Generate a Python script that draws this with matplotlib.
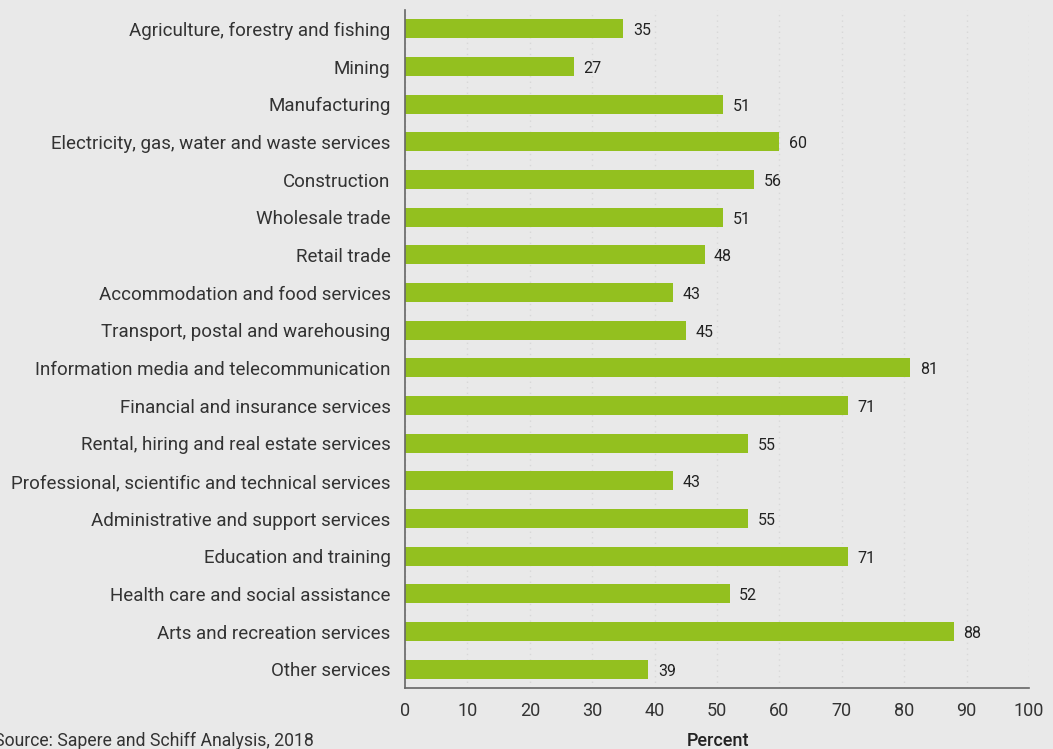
import matplotlib.pyplot as plt

plt.rcParams['font.family'] = ['Roboto', 'DejaVu Sans']

industries = [
    "Agriculture, forestry and fishing",
    "Mining",
    "Manufacturing",
    "Electricity, gas, water and waste services",
    "Construction",
    "Wholesale trade",
    "Retail trade",
    "Accommodation and food services",
    "Transport, postal and warehousing",
    "Information media and telecommunication",
    "Financial and insurance services",
    "Rental, hiring and real estate services",
    "Professional, scientific and technical services",
    "Administrative and support services",
    "Education and training",
    "Health care and social assistance",
    "Arts and recreation services",
    "Other services",
]
percent = [35, 27, 51, 60, 56, 51, 48, 43, 45, 81, 71, 55, 43, 55, 71, 52, 88, 39]
xticks = list(range(0, 101, 10))

bg = '#e9e9e9'
green = '#93c01f'
txt = '#333333'

fig = plt.figure(figsize=(10.53, 7.49), dpi=100, facecolor=bg)
ax = fig.add_axes([0.3847, 0.0814, 0.5925, 0.9052])
ax.set_facecolor(bg)

y = list(range(len(industries)))
ax.barh(y, percent, height=0.5, color=green, zorder=2)
for yi, v in zip(y, percent):
    ax.text(v + 1.5, yi + 0.05, str(v), va='center', ha='left', fontsize=11.5, color='#222222')

ax.set_ylim(len(industries) - 0.5, -0.5)
ax.set_xlim(0, 100)
ax.set_yticks(y)
ax.set_yticklabels(industries, fontsize=13.5, color=txt)
ax.set_xticks(xticks)
ax.set_xticklabels([str(t) for t in xticks], fontsize=13, color=txt)
ax.tick_params(axis='y', length=0, pad=10.5)
ax.tick_params(axis='x', length=0, pad=10)

ax.grid(axis='x', color='#d8d8d8', linestyle=(0, (1, 3)), linewidth=1, zorder=0)
for s in ['top', 'right']:
    ax.spines[s].set_visible(False)
for s in ['left', 'bottom']:
    ax.spines[s].set_color('#666666')
    ax.spines[s].set_linewidth(1.2)

fig.text(718 / 1053, 1 - 741 / 749, "Percent", ha='center', va='center', fontsize=13,
         color='#222222', fontweight='medium')
fig.text(-6 / 1053, 1 - 741 / 749, "Source: Sapere and Schiff Analysis, 2018", ha='left',
         va='center', fontsize=12.7, color=txt)

fig.savefig('out.png', dpi=100, facecolor=bg)
